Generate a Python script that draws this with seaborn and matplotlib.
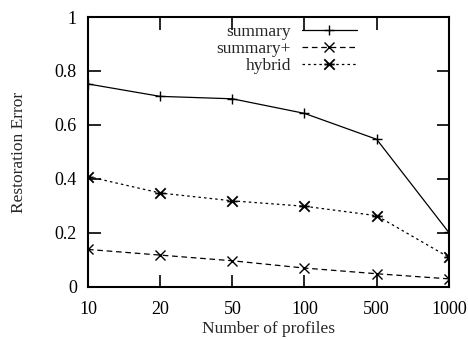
import matplotlib
matplotlib.use("Agg")
import matplotlib.pyplot as plt
from matplotlib.path import Path
import seaborn as sns
import pandas as pd

profiles = ["10", "20", "50", "100", "500", "1000"]
summary = [0.752, 0.706, 0.697, 0.643, 0.547, 0.202]
summary_plus = [0.139, 0.118, 0.097, 0.070, 0.049, 0.030]
hybrid = [0.409, 0.348, 0.319, 0.299, 0.264, 0.110]
series_names = ["summary", "summary+", "hybrid"]

df = pd.DataFrame({
    "profiles": profiles * 3,
    "error": summary + summary_plus + hybrid,
    "method": [series_names[0]] * 6 + [series_names[1]] * 6 + [series_names[2]] * 6,
})

sns.set_style("ticks")
plt.rcParams["font.family"] = ["Liberation Serif", "DejaVu Serif"]
plt.rcParams["font.size"] = 12

asterisk = Path([(-1, -1), (1, 1), (-1, 1), (1, -1), (-1, 0), (1, 0), (0, -0.3), (0, 0.3)],
                [Path.MOVETO, Path.LINETO, Path.MOVETO, Path.LINETO,
                 Path.MOVETO, Path.LINETO, Path.MOVETO, Path.LINETO])

fig, ax = plt.subplots(figsize=(4.68, 3.4), dpi=100)
fig.subplots_adjust(left=0.188, right=0.959, top=0.95, bottom=0.156)

sns.lineplot(data=df, x="profiles", y="error", hue="method", style="method",
             hue_order=series_names, style_order=series_names,
             palette=["black", "black", "black"],
             markers={"summary": "+", "summary+": "x", "hybrid": "x"},
             dashes={"summary": "", "summary+": (4.5, 3), "hybrid": (2, 2.5)},
             linewidth=0.9, markersize=7.5, markeredgewidth=1.0,
             markeredgecolor="black", ax=ax, legend=True)

ax.lines[1].set_markersize(7)
ax.lines[2].set_marker(asterisk)
ax.lines[2].set_markersize(7.5)
ax.lines[2].set_markeredgewidth(1.3)
ax.lines[2].set_fillstyle("none")

ax.set_xlim(0, 5)
ax.set_ylim(0, 1)
ax.set_yticks([0, 0.2, 0.4, 0.6, 0.8, 1])
ax.set_yticklabels(["0", "0.2", "0.4", "0.6", "0.8", "1"])
ax.set_xlabel("Number of profiles", fontsize=12.5, labelpad=2)
ax.set_ylabel("Restoration Error", fontsize=12.5, labelpad=20)
ax.tick_params(direction="in", length=9, width=1.2, top=True, right=True,
               labelsize=13, colors="black")
ax.tick_params(axis="x", pad=10)
ax.tick_params(axis="y", pad=8)
for s in ax.spines.values():
    s.set_visible(True)
    s.set_linewidth(1.5)
    s.set_color("black")

handles, labels = ax.get_legend_handles_labels()
handles[1].set_markersize(7)
handles[2].set_marker(asterisk)
handles[2].set_markersize(7.5)
handles[2].set_markeredgewidth(1.3)
handles[2].set_fillstyle("none")
ax.legend(handles, labels, loc="upper right", bbox_to_anchor=(0.746, 0.975),
          frameon=False, markerfirst=False, handlelength=3.2, handletextpad=0.6,
          labelspacing=0.05, borderpad=0, borderaxespad=0, fontsize=12.5)

fig.savefig("out.png", dpi=100)
